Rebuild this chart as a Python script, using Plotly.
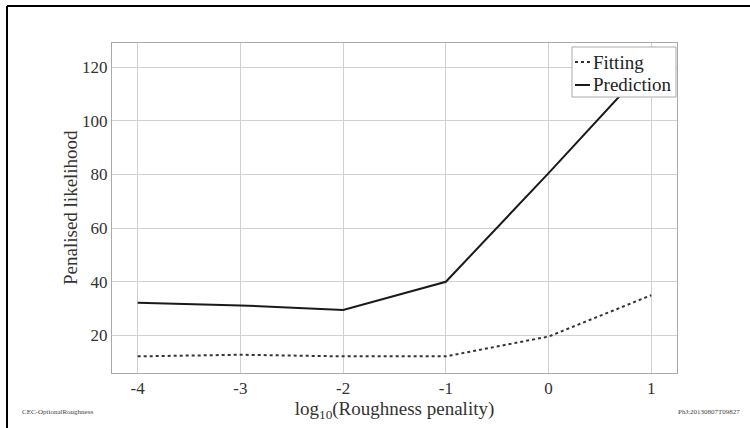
import plotly.graph_objects as go

x_vals = [-4, -3, -2, -1, 0, 1]
fitting = [12.2, 12.8, 12.2, 12.2, 19.6, 35.0]
prediction = [32.2, 31.2, 29.5, 40.0, 80.5, 122.0]
x_ticks = [-4, -3, -2, -1, 0, 1]
y_ticks = [20, 40, 60, 80, 100, 120]
series_names = ["Fitting", "Prediction"]

FONT = "Liberation Serif"
fig = go.Figure()
fig.add_trace(go.Scatter(x=x_vals, y=fitting, mode="lines", name=series_names[0],
                         line=dict(color="#333333", width=2, dash="dot")))
fig.add_trace(go.Scatter(x=x_vals, y=prediction, mode="lines", name=series_names[1],
                         line=dict(color="#1a1a1a", width=2)))

W, H = 750, 428
L, R, T, B = 112, 73, 43, 55
pw, ph = W - L - R, H - T - B

def px(xp):
    return (xp - L) / pw

def py(yp):
    return 1 - (yp - T) / ph

shapes = [
    dict(type="line", xref="paper", yref="paper", x0=px(7), x1=px(W + 5),
         y0=py(6), y1=py(6), line=dict(color="black", width=2)),
    dict(type="line", xref="paper", yref="paper", x0=px(7), x1=px(7),
         y0=py(6), y1=py(H + 5), line=dict(color="black", width=2)),
    # legend box
    dict(type="rect", xref="paper", yref="paper", x0=px(572), x1=px(676),
         y0=py(97), y1=py(47), fillcolor="white", line=dict(color="#aaaaaa", width=1),
         layer="above"),
    dict(type="line", xref="paper", yref="paper", x0=px(575), x1=px(590),
         y0=py(62), y1=py(62), line=dict(color="#333333", width=2, dash="dot"),
         layer="above"),
    dict(type="line", xref="paper", yref="paper", x0=px(575), x1=px(590),
         y0=py(85), y1=py(85), line=dict(color="#1a1a1a", width=2), layer="above"),
]

annotations = [
    dict(text=series_names[0], xref="paper", yref="paper", x=px(591), y=py(62),
         xanchor="left", yanchor="middle", showarrow=False,
         font=dict(family=FONT, size=19, color="#222222")),
    dict(text=series_names[1], xref="paper", yref="paper", x=px(591), y=py(85),
         xanchor="left", yanchor="middle", showarrow=False,
         font=dict(family=FONT, size=19, color="#222222")),
    dict(text="Penalised likelihood", xref="paper", yref="paper", x=px(70), y=0.5,
         xanchor="center", yanchor="middle", textangle=-90, showarrow=False,
         font=dict(family=FONT, size=19, color="#333333")),
    dict(text="CEC-OptionalRoughness", xref="paper", yref="paper",
         x=px(20), y=py(412), xanchor="left", yanchor="middle", showarrow=False,
         font=dict(family=FONT, size=7, color="#444444")),
    dict(text="PhJ:20130807T09827", xref="paper", yref="paper",
         x=px(742), y=py(412), xanchor="right", yanchor="middle", showarrow=False,
         font=dict(family=FONT, size=7, color="#444444")),
]

fig.update_layout(
    width=W, height=H,
    margin=dict(l=L, r=R, t=T, b=B),
    paper_bgcolor="white", plot_bgcolor="white",
    font=dict(family=FONT, color="#333333", size=17),
    showlegend=False,
    xaxis=dict(range=[-4.25, 1.25], tickvals=x_ticks, ticktext=[str(t) for t in x_ticks],
               showgrid=True, gridcolor="#d0d0d0", gridwidth=1,
               showline=True, linecolor="#aaaaaa", mirror=True, zeroline=False,
               ticks="", tickfont=dict(size=17, color="#333333"),
               title=dict(text="log<sub>10</sub>(Roughness penality)", standoff=0,
                          font=dict(size=19, color="#333333"))),
    yaxis=dict(range=[6, 129], tickvals=y_ticks,
               showgrid=True, gridcolor="#d0d0d0", gridwidth=1,
               showline=True, linecolor="#aaaaaa", mirror=True, zeroline=False,
               ticks="", tickfont=dict(size=17, color="#333333")),
    shapes=shapes,
    annotations=annotations,
)

fig.write_html("out.html")
